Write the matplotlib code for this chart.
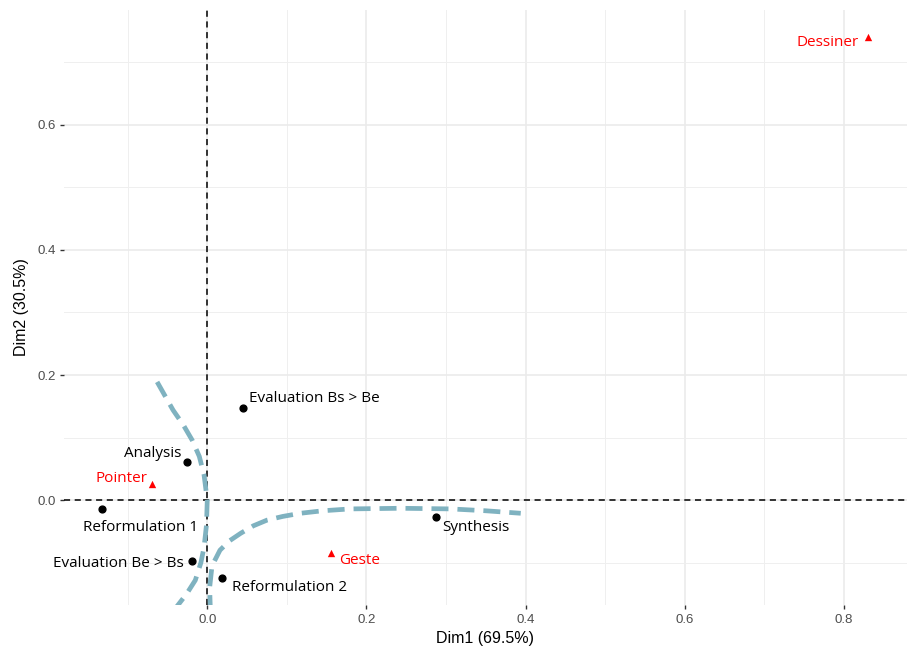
import matplotlib.pyplot as plt
from matplotlib.ticker import MultipleLocator

# row points (black) and column points (red)
row_names = ["Evaluation Bs > Be", "Analysis", "Reformulation 1", "Synthesis",
             "Evaluation Be > Bs", "Reformulation 2"]
row_x = [0.045, -0.026, -0.132, 0.288, -0.019, 0.018]
row_y = [0.147, 0.061, -0.014, -0.027, -0.098, -0.125]
row_lab_x = [0.135, -0.069, -0.084, 0.338, -0.112, 0.103]
row_lab_y = [0.162, 0.075, -0.043, -0.043, -0.102, -0.139]

col_names = ["Dessiner", "Pointer", "Geste"]
col_x = [0.831, -0.070, 0.155]
col_y = [0.741, 0.026, -0.085]
col_lab_x = [0.780, -0.108, 0.192]
col_lab_y = [0.731, 0.035, -0.096]

# hand drawn cluster outlines
curve1_x = [-0.063, -0.043, -0.030, -0.019, -0.010, -0.004, 0.0, -0.001, -0.004,
            -0.008, -0.015, -0.026, -0.040]
curve1_y = [0.189, 0.144, 0.120, 0.096, 0.070, 0.040, 0.0, -0.040, -0.075,
            -0.100, -0.128, -0.150, -0.173]
curve2_x = [0.004, 0.003, 0.006, 0.016, 0.028, 0.042, 0.058, 0.075, 0.095, 0.117,
            0.145, 0.180, 0.243, 0.306, 0.350, 0.394]
curve2_y = [-0.179, -0.140, -0.105, -0.080, -0.065, -0.053, -0.041, -0.032, -0.026,
            -0.021, -0.017, -0.014, -0.013, -0.014, -0.017, -0.021]

lab_font = ["Open Sans", "DejaVu Sans"]
axis_font = ["Liberation Sans Narrow", "Liberation Sans", "DejaVu Sans"]

fig = plt.figure(figsize=(9.07, 6.48), dpi=100)
ax = fig.add_axes([0.0706, 0.066, 0.929, 0.919])

ax.set_xlim(-0.18, 0.879)
ax.set_ylim(-0.168, 0.784)

ax.xaxis.set_major_locator(MultipleLocator(0.2))
ax.xaxis.set_minor_locator(MultipleLocator(0.1))
ax.yaxis.set_major_locator(MultipleLocator(0.2))
ax.yaxis.set_minor_locator(MultipleLocator(0.1))
ax.grid(which="major", color="#EBEBEB", linewidth=1.2)
ax.grid(which="minor", color="#EFEFEF", linewidth=0.7)
ax.set_axisbelow(True)
for s in ax.spines.values():
    s.set_visible(False)
ax.tick_params(which="major", length=3, width=1, color="#333333",
               labelsize=9.5, labelcolor="#4D4D4D", pad=3)
ax.tick_params(which="minor", length=0)
ax.set_xticklabels([f"{t:.1f}" for t in ax.get_xticks()], family=axis_font)
ax.set_yticklabels([f"{t:.1f}" for t in ax.get_yticks()], family=axis_font)

ax.axhline(0, color="black", linestyle=(0, (4, 3)), linewidth=1.1, zorder=2)
ax.axvline(0, color="black", linestyle=(0, (4, 3)), linewidth=1.1, zorder=2)

ax.plot(curve1_x, curve1_y, color="#7FB2C0", linewidth=3.4, linestyle=(0, (3.6, 1.9)),
        solid_capstyle="butt", zorder=3)
ax.plot(curve2_x, curve2_y, color="#7FB2C0", linewidth=3.4, linestyle=(0, (3.6, 1.9)),
        solid_capstyle="butt", zorder=3)

ax.scatter(row_x, row_y, s=24, color="black", zorder=4)
ax.scatter(col_x, col_y, s=28, color="red", marker="^", linewidths=0, zorder=4)

for n, x, y in zip(row_names, row_lab_x, row_lab_y):
    ax.text(x, y, n, ha="center", va="center", fontsize=11, color="black",
            family=lab_font, zorder=5)
for n, x, y in zip(col_names, col_lab_x, col_lab_y):
    ax.text(x, y, n, ha="center", va="center", fontsize=11, color="red",
            family=lab_font, zorder=5)

ax.set_xlabel("Dim1 (69.5%)", fontsize=11.5, family=axis_font, labelpad=4)
ax.set_ylabel("Dim2 (30.5%)", fontsize=11.5, family=axis_font, labelpad=6)

fig.savefig("out.png", dpi=100)
